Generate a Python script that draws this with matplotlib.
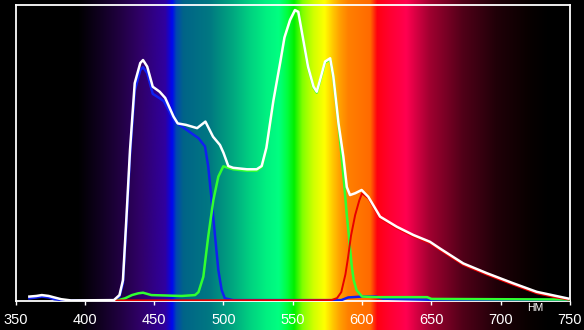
import numpy as np
import matplotlib
matplotlib.use("Agg")
import matplotlib.pyplot as plt
from matplotlib.colors import to_rgb
from matplotlib import font_manager

# ---- data ----
white_nm = [360, 365, 369, 374, 378, 383, 390, 421, 425, 427.5, 430, 432.6, 436, 440, 442,
            445, 449, 454, 458, 464, 467, 473, 481, 487, 492.5, 497.5, 500, 503.5, 507,
            517, 524, 527.6, 531, 536, 541, 544, 548, 551.6, 554, 557.6, 561, 565, 567.3,
            569.7, 573.3, 577, 579.3, 583, 586.5, 589, 591.3, 595, 599.7, 604.5, 613, 625,
            637, 649, 656, 673, 690, 709, 726, 740, 749]
white_val = [1.5, 1.7, 2.0, 1.7, 1.2, 0.6, 0.2, 0.3, 2.0, 7.0, 28.0, 51.0, 73.6, 80.4, 81.4,
             79.2, 72.4, 70.7, 68.6, 62.3, 60.0, 59.5, 58.4, 60.6, 55.5, 52.7, 50.1, 45.6, 45.0,
             44.5, 44.5, 45.6, 51.8, 67.6, 80.7, 89.0, 94.9, 98.3, 97.7, 88.2, 79.2, 72.4, 70.7,
             74.7, 80.9, 82.0, 75.8, 60.0, 48.8, 38.5, 35.8, 36.4, 37.5, 35.2, 28.5, 25.1,
             22.3, 20.0, 17.8, 12.7, 9.4, 6.0, 3.1, 1.7, 0.8]

blue_nm = [360, 365, 369, 374, 378, 386, 421, 425, 427.5, 430, 432.6, 436, 440, 442, 445, 449,
           454, 457, 465, 473.5, 482, 486.7, 489, 491.5, 494, 496.3, 498.7, 501, 507, 585, 590,
           600, 610, 615, 650, 750]
blue_val = [0.9, 1.2, 1.5, 1.2, 0.6, 0.2, 0.2, 1.5, 6.0, 26.0, 49.0, 71.0, 78.0, 79.0, 77.0,
            70.0, 68.5, 67.5, 60.6, 57.8, 55.0, 52.2, 45.5, 34.0, 21.7, 10.5, 3.7, 0.9, 0.3, 0.3,
            1.2, 1.5, 1.5, 0.8, 0.4, 0.3]

green_nm = [422, 429, 434, 438.6, 442, 448, 470, 479.5, 482, 485.5, 489, 492.7, 496.3, 499.9,
            503.5, 507, 517, 524, 527.6, 531, 536, 541, 544, 548, 551.6, 554, 557.6, 561, 565,
            567.3, 569.7, 573.3, 577, 579.3, 583, 585, 587, 589, 590.5, 592.5, 594, 596, 600,
            610, 647, 650, 750]
green_val = [0.0, 0.9, 2.0, 2.6, 2.8, 2.0, 1.7, 2.0, 3.0, 8.2, 21.7, 34.0, 42.0, 45.5,
             45.0, 44.5, 44.0, 44.0, 45.3, 51.5, 67.3, 80.4, 88.7, 94.6, 98.0, 97.4, 87.9, 78.9,
             72.1, 70.4, 74.4, 80.6, 81.7, 75.5, 59.7, 50.0, 40.0, 29.0, 22.0, 12.0, 7.0, 3.7, 1.5,
             1.3, 1.3, 0.7, 0.5]

red_nm = [420, 578, 582, 585, 588, 590, 592, 595, 598, 600, 604.5, 613, 625, 637, 649, 656,
          673, 690, 709, 726, 740, 749]
red_val = [0.2, 0.3, 1.0, 3.0, 9.0, 15.0, 22.0, 29.0, 34.0, 36.4, 34.7, 28.0, 24.6, 21.8,
           19.5, 17.3, 12.2, 8.9, 5.5, 2.6, 1.2, 0.5]

tick_vals = [350, 400, 450, 500, 550, 600, 650, 700, 750]
unit_label = "НМ"

# background spectrum colour stops
spec_nm = [338, 395, 411, 425, 440, 458, 463, 466, 471, 490, 500, 507, 519, 531, 540, 546,
           551, 557, 565, 573, 579, 584, 590, 606, 611, 620, 632, 649, 673, 697, 721, 735, 761]
spec_col = ["#000000", "#000000", "#100020", "#200040", "#300068", "#3000a0", "#0008f0",
            "#0048b0", "#006488", "#007882", "#00957f", "#00a880", "#00d080", "#00f080",
            "#00ff80", "#00ff40", "#00f000", "#80ff00", "#d0ff00", "#ffff00", "#ffc800",
            "#ffa000", "#ff8000", "#ff6a00", "#ff0010", "#ff0030", "#ff0050", "#a00030",
            "#500018", "#200008", "#080000", "#000000", "#000000"]

# ---- figure ----
W, H = 584, 330
fig = plt.figure(figsize=(W / 100, H / 100), dpi=100)
fig.patch.set_facecolor("black")

ax_l, ax_r, ax_t, ax_b = 15.5, 570.0, 5.0, 301.0
xmin, xmax = 350, 750
npp = (xmax - xmin) / (ax_r - ax_l)
fig_x0 = xmin - ax_l * npp
fig_x1 = xmin + (W - ax_l) * npp

# background axes
bg = fig.add_axes([0, 0, 1, 1])
bg.set_axis_off()
xs = np.linspace(fig_x0, fig_x1, 1200)
rgb = np.array([to_rgb(c) for c in spec_col])
img = np.stack([np.interp(xs, spec_nm, rgb[:, k]) for k in range(3)], axis=-1)[None, :, :]
bg.imshow(img, aspect="auto", extent=[fig_x0, fig_x1, 0, 1], interpolation="bilinear")
bg.set_xlim(fig_x0, fig_x1)
bg.set_ylim(0, 1)
bg.axvspan(fig_x0, xmin, color="black", zorder=2)

ax = fig.add_axes([ax_l / W, (H - ax_b) / H, (ax_r - ax_l) / W, (ax_b - ax_t) / H])
ax.patch.set_alpha(0)
ax.set_xlim(xmin, xmax)
ax.set_ylim(0, 100)

ax.plot(blue_nm, blue_val, color="#1020f0", lw=1.8, zorder=3)
ax.plot(green_nm, green_val, color="#30ff30", lw=1.8, zorder=4)
ax.plot(red_nm, red_val, color="#e80000", lw=1.4, zorder=5)
ax.plot(white_nm, white_val, color="white", lw=1.8, zorder=6)

for s in ax.spines.values():
    s.set_color("white")
    s.set_linewidth(1.3)

names = {f.name for f in font_manager.fontManager.ttflist}
font = [n for n in ["Liberation Sans Narrow", "Liberation Sans", "DejaVu Sans"] if n in names]
ax.set_xticks(tick_vals)
ax.set_xticklabels([str(v) for v in tick_vals], family=font, fontsize=10.5, color="white")
ax.tick_params(axis="x", direction="out", length=3, width=1, color="white", pad=5.5)
ax.set_yticks([])

ax.text(725, -0.8, unit_label, transform=ax.transData, ha="center", va="top",
        color="white", fontsize=7.5, family=font)

fig.savefig("out.png", dpi=100, facecolor="black")
